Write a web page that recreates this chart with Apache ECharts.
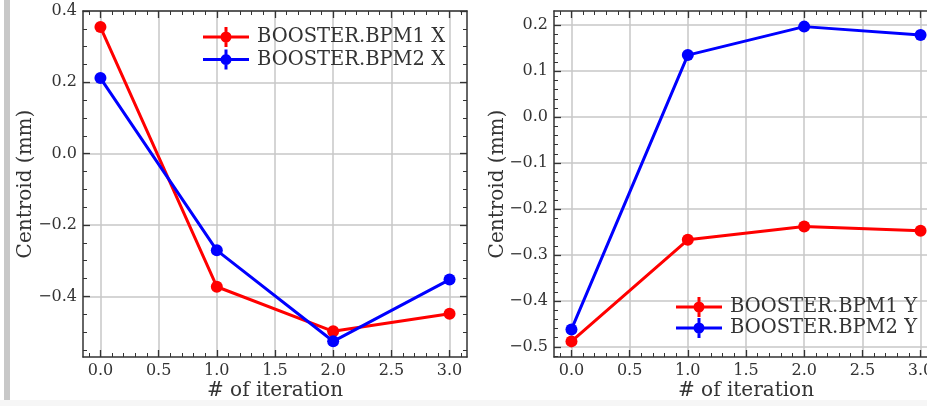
<!DOCTYPE html>
<html>
<head>
<meta charset="utf-8">
<script src="https://cdn.jsdelivr.net/npm/echarts@6/dist/echarts.min.js"></script>
<style>
html, body { margin: 0; padding: 0; background: #fff; }
#chart { width: 927px; height: 406px; }
</style>
</head>
<body>
<div id="chart"></div>
<script>
// data
const iterations = [0, 1, 2, 3]
const bpm1X = [0.355, -0.373, -0.498, -0.449]
const bpm2X = [0.212, -0.271, -0.526, -0.353]
const bpm1Y = [-0.488, -0.267, -0.238, -0.247]
const bpm2Y = [-0.462, 0.135, 0.197, 0.179]

const namesX = ['BOOSTER.BPM1 X', 'BOOSTER.BPM2 X']
const namesY = ['BOOSTER.BPM1 Y', 'BOOSTER.BPM2 Y']

// axis ranges and tick values
const xRange = [-0.15, 3.15]
const xMajor = [0, 0.5, 1, 1.5, 2, 2.5, 3]
const xMinorStep = 0.1
const yRangeX = [-0.57, 0.4]
const yMajorX = [-0.4, -0.2, 0, 0.2, 0.4]
const yMinorStepX = 0.05
const yRangeY = [-0.522, 0.231]
const yMajorY = [-0.5, -0.4, -0.3, -0.2, -0.1, 0, 0.1, 0.2]
const yMinorStepY = 0.02

const gridW = 384, gridH = 346

const axisColor = '#333'
const gridColor = '#c8c8c8'
const serif = 'DejaVu Serif'
const textColor = '#333'

// matplotlib style legend marker: line + dot + errorbar
const legendIcon = 'path://M0 8.5H46V11.5H0Z M21.5 0H24.5V20H21.5Z M17.5 10A5.5 5.5 0 1 1 28.5 10A5.5 5.5 0 1 1 17.5 10Z'

const fmt = v => (v < 0 ? '\u2212' : '') + Math.abs(v).toFixed(1)
const pts = ys => iterations.map((x, i) => [x, ys[i]])

// tick positions for minor ticks inside the range
function steps (range, step) {
  const out = []
  for (let k = Math.ceil(range[0] / step - 1e-9); k * step <= range[1] + 1e-9; k++) {
    out.push(+(k * step).toFixed(4))
  }
  return out
}

// 5 axes per side: main (labels), minor, opposite major, opposite minor, grid lines
function tickAxes (dim, grid, range, major, minorStep, main) {
  const posA = dim === 'x' ? 'bottom' : 'left'
  const posB = dim === 'x' ? 'top' : 'right'
  const minor = steps(range, minorStep)
  const base = {
    type: 'value', gridIndex: grid, min: range[0], max: range[1], z: 1,
    axisLine: { show: false, onZero: false },
    axisLabel: { show: false },
    splitLine: { show: false }
  }
  const line = { show: true, onZero: false, lineStyle: { color: axisColor, width: 1.5 } }
  const majTick = { inside: true, length: 7, customValues: major, lineStyle: { color: axisColor, width: 1.3 } }
  const minTick = { inside: true, length: 4, customValues: minor, lineStyle: { color: axisColor, width: 1 } }
  const gridTick = {
    inside: true, length: dim === 'x' ? gridH : gridW, customValues: major,
    lineStyle: { color: gridColor, width: 1.5 }
  }
  return [
    Object.assign({}, base, main, {
      position: posA, axisLine: line, axisTick: majTick,
      axisLabel: Object.assign({}, main.axisLabel, { customValues: major })
    }),
    Object.assign({}, base, { position: posA, axisTick: minTick }),
    Object.assign({}, base, { position: posB, axisLine: line, axisTick: majTick }),
    Object.assign({}, base, { position: posB, axisTick: minTick }),
    Object.assign({}, base, { position: posA, z: 0, axisTick: gridTick })
  ]
}

const labelStyle = { fontFamily: serif, fontSize: 16, color: textColor }
const nameStyle = { fontFamily: serif, fontSize: 20, color: textColor }

const xMain = {
  name: '# of iteration', nameLocation: 'middle', nameGap: 24, nameTextStyle: nameStyle,
  nameMoveOverlap: false,
  axisLabel: Object.assign({ show: true, formatter: fmt, margin: 6 }, labelStyle)
}
const yMain = {
  name: 'Centroid (mm)', nameLocation: 'middle', nameGap: 47, nameTextStyle: nameStyle,
  nameMoveOverlap: false,
  axisLabel: Object.assign({ show: true, formatter: fmt, margin: 6 }, labelStyle)
}
const yMainR = Object.assign({}, yMain, { nameGap: 46 })

const lineSeries = (name, data, color, grid) => ({
  name, type: 'line', data: pts(data),
  xAxisIndex: grid * 5, yAxisIndex: grid * 5,
  symbol: 'circle', symbolSize: 12, showSymbol: true,
  lineStyle: { color, width: 3 },
  itemStyle: { color, borderWidth: 0 },
  emphasis: { disabled: true },
  z: 3
})

const legendBase = {
  orient: 'vertical', padding: 0, itemWidth: 46, itemHeight: 20, icon: legendIcon,
  itemStyle: { borderWidth: 0 },
  textStyle: { fontFamily: serif, fontSize: 19.5, color: textColor, padding: [0, 0, 0, 3] },
  selectedMode: false
}

const option = {
  backgroundColor: '#fff',
  animation: false,
  grid: [
    { left: 83, top: 11, width: gridW, height: gridH, outerBoundsMode: 'none' },
    { left: 554, top: 11, width: gridW, height: gridH, outerBoundsMode: 'none' }
  ],
  xAxis: [
    ...tickAxes('x', 0, xRange, xMajor, xMinorStep, xMain),
    ...tickAxes('x', 1, xRange, xMajor, xMinorStep, xMain)
  ],
  yAxis: [
    ...tickAxes('y', 0, yRangeX, yMajorX, yMinorStepX, yMain),
    ...tickAxes('y', 1, yRangeY, yMajorY, yMinorStepY, yMainR)
  ],
  legend: [
    Object.assign({}, legendBase, { left: 203, top: 27, itemGap: 2.6, data: namesX }),
    Object.assign({}, legendBase, { left: 676, top: 297, itemGap: 1, data: namesY })
  ],
  series: [
    lineSeries(namesX[0], bpm1X, '#ff0000', 0),
    lineSeries(namesX[1], bpm2X, '#0000ff', 0),
    lineSeries(namesY[0], bpm1Y, '#ff0000', 1),
    lineSeries(namesY[1], bpm2Y, '#0000ff', 1)
  ],
  // grey strip at the left edge of the screenshot
  graphic: [
    { type: 'rect', left: 4, top: 0, shape: { width: 6, height: 400 }, style: { fill: '#c8c8c8' }, silent: true },
    { type: 'rect', left: 0, top: 400, shape: { width: 927, height: 6 }, style: { fill: '#f6f6f6' }, silent: true }
  ]
}

const chart = echarts.init(document.getElementById('chart'))
chart.setOption(option)
</script>
</body>
</html>
